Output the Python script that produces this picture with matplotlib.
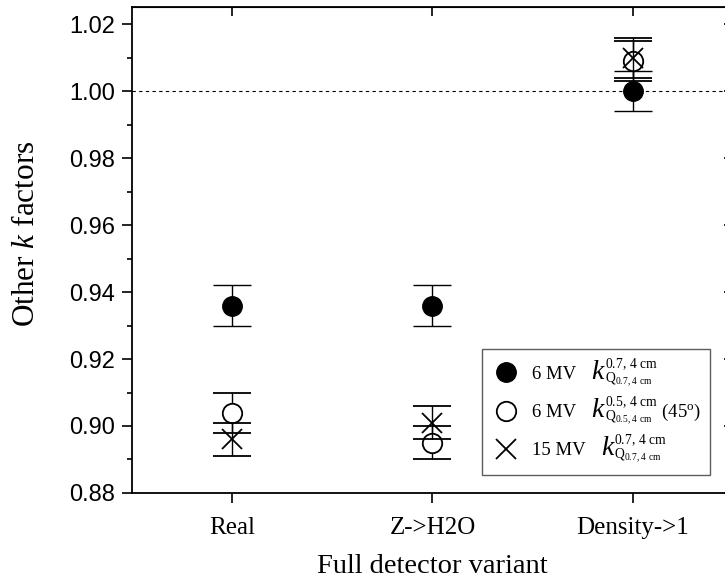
import matplotlib
matplotlib.use("Agg")
import matplotlib.pyplot as plt
import numpy as np
from matplotlib.lines import Line2D
from matplotlib.offsetbox import HPacker, TextArea

plt.rcParams["font.family"] = "Liberation Serif"
plt.rcParams["mathtext.fontset"] = "custom"
plt.rcParams["mathtext.rm"] = "Liberation Serif"
plt.rcParams["mathtext.it"] = "Liberation Serif:italic"

variants = ["Real", "Z->H2O", "Density->1"]

# 6 MV k_Q(0.7, 4 cm), filled circles
k6 = [0.936, 0.936, 1.000]
k6_err = [0.006, 0.006, 0.006]
# 6 MV k_Q(0.5, 4 cm) at 45 deg, open circles
k6_45 = [0.904, 0.895, 1.009]
k6_45_err = [0.006, 0.005, 0.006]
# 15 MV k_Q(0.7, 4 cm), crosses
k15 = [0.896, 0.901, 1.010]
k15_err = [0.005, 0.005, 0.006]

y_ticks = [0.88, 0.90, 0.92, 0.94, 0.96, 0.98, 1.00, 1.02]

# legend text: beam, k superscript/subscript, trailing note
leg_beams = ["6 MV", "6 MV", "15 MV"]
leg_scripts = [
    r"${}^{\mathrm{0.7,\,4\ cm}}_{\mathrm{Q}_{\mathrm{0.7,\,4\ cm}}}$",
    r"${}^{\mathrm{0.5,\,4\ cm}}_{\mathrm{Q}_{\mathrm{0.5,\,4\ cm}}}$",
    r"${}^{\mathrm{0.7,\,4\ cm}}_{\mathrm{Q}_{\mathrm{0.7,\,4\ cm}}}$",
]
leg_notes = ["", r" (45$^{\mathrm{o}}$)", ""]

fig = plt.figure(figsize=(7.25, 5.84), dpi=100)
ax = fig.add_axes([0.182, 0.156, 0.829, 0.832])

x = np.arange(1, len(variants) + 1)

ax.axhline(1.0, color="black", linestyle=(0, (3, 3)), linewidth=0.8, zorder=1)

eb_kw = dict(ecolor="black", elinewidth=1.0, capsize=14, capthick=1.0, linestyle="none")
ax.errorbar(x, k6, yerr=k6_err, marker="o", markersize=14, markerfacecolor="black",
            markeredgecolor="black", zorder=3, **eb_kw)
ax.errorbar(x, k6_45, yerr=k6_45_err, marker="o", markersize=14, markerfacecolor="white",
            markeredgecolor="black", markeredgewidth=1.3, zorder=3, **eb_kw)
ax.errorbar(x, k15, yerr=k15_err, marker="x", markersize=14, color="black",
            markeredgewidth=1.3, zorder=4, **eb_kw)

ax.set_xlim(0.5, 3.5)
ax.set_ylim(0.88, 1.0252)
ax.set_xticks(x)
ax.set_xticklabels(variants, fontsize=18)
ax.set_yticks(y_ticks)
ax.set_yticklabels([f"{v:.2f}" for v in y_ticks], family="Liberation Sans", fontsize=17)
ax.set_yticks(np.arange(0.89, 1.025, 0.02), minor=True)

ax.tick_params(axis="y", which="major", direction="out", length=7.2, width=1.2, pad=5)
ax.tick_params(axis="y", which="minor", direction="out", length=3.6, width=1.2)
ax.tick_params(axis="x", which="major", direction="out", length=7.2, width=1.2, pad=10)
for s in ax.spines.values():
    s.set_linewidth(1.3)

# inward ticks on top and right
top = ax.secondary_xaxis("top")
top.set_xticks(x)
top.tick_params(direction="in", length=6.5, width=1.2, labeltop=False)
right = ax.secondary_yaxis("right")
right.set_yticks(y_ticks)
right.tick_params(direction="in", length=6.5, width=1.2, labelright=False)

ax.set_xlabel("Full detector variant", fontsize=20.5, labelpad=11)
ax.set_ylabel(r"Other $k$ factors", fontsize=22.5)
ax.yaxis.set_label_coords(-0.152, 0.533)

handles = [
    Line2D([], [], linestyle="none", marker="o", markersize=14, color="black"),
    Line2D([], [], linestyle="none", marker="o", markersize=14, markerfacecolor="white",
           markeredgecolor="black", markeredgewidth=1.3),
    Line2D([], [], linestyle="none", marker="x", markersize=14, color="black",
           markeredgewidth=1.3),
]
leg = ax.legend(handles, leg_beams, loc="lower right", bbox_to_anchor=(0.962, 0.037),
                borderaxespad=0, fancybox=False, edgecolor="#333333", fontsize=13.5,
                handlelength=1.7, handletextpad=0.5, borderpad=0.45, labelspacing=0.32)
leg.get_frame().set_linewidth(1.0)

# append the italic k with its scripts to each legend row
rows = leg._legend_handle_box.get_children()[0].get_children()
for row, scr, note in zip(rows, leg_scripts, leg_notes):
    parts = [
        TextArea(" k", textprops=dict(fontsize=20, style="italic")),
        TextArea(scr, textprops=dict(fontsize=14)),
    ]
    if note:
        parts.append(TextArea(note, textprops=dict(fontsize=13.5)))
    box = HPacker(children=parts, sep=0, pad=0, align="baseline")
    box.set_figure(fig)
    for p in parts:
        p.set_figure(fig)
    row.get_children().append(box)

fig.savefig("out.png", dpi=100)
